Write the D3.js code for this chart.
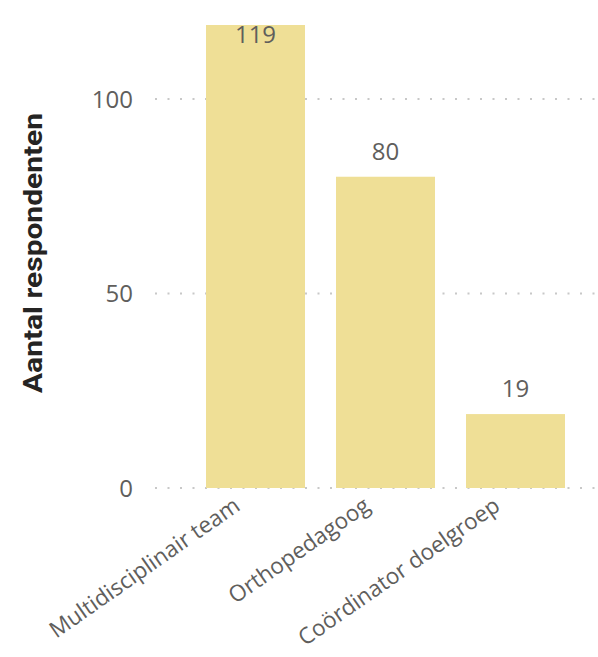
<!DOCTYPE html>
<html><head><meta charset="utf-8">
<script src="https://cdn.jsdelivr.net/npm/d3@7"></script>
<style>body{margin:0;background:#fff}svg{display:block}</style>
</head><body><svg id="c" width="598" height="657"></svg>
<script>
const categories = ["Multidisciplinair team", "Orthopedagoog", "Coördinator doelgroep"];
const values = [119, 80, 19];
const yTicks = [0, 50, 100];
const yTitle = "Aantal respondenten";

const svg = d3.select("#c");
const W = 598, H = 657;
const x = d3.scaleBand().domain(categories).range([141, 630]).paddingInner(0.2385).paddingOuter(0.5);
const y = d3.scaleLinear().domain([0, 119]).range([488, 25]);
const txt = "#605E5C";
const font = "'Open Sans', 'Noto Sans', sans-serif";

// gridlines
svg.append("g").selectAll("line").data(yTicks).join("line")
  .attr("x1", 155).attr("x2", W).attr("y1", d => y(d)).attr("y2", d => y(d))
  .attr("stroke", "#c8c8c8").attr("stroke-width", 2)
  .attr("stroke-dasharray", "2,10.5").attr("stroke-linecap", "butt");

// y axis labels
const yAxis = d3.axisLeft(y).tickValues(yTicks).tickSize(0).tickPadding(0);
const gy = svg.append("g").attr("transform", "translate(133,0)").call(yAxis);
gy.select(".domain").remove();
gy.selectAll("text").attr("fill", txt).style("font-family", font).style("font-size", "24px").attr("dy", "0.34em");

// bars
svg.append("g").selectAll("rect").data(values).join("rect")
  .attr("x", (d, i) => x(categories[i])).attr("width", x.bandwidth())
  .attr("y", d => y(d)).attr("height", d => y(0) - y(d))
  .attr("fill", "#EFDF96");

// data labels
svg.append("g").selectAll("text").data(values).join("text")
  .attr("x", (d, i) => x(categories[i]) + x.bandwidth() / 2)
  .attr("y", d => Math.max(y(d) - 17, 43))
  .attr("text-anchor", "middle").attr("fill", txt)
  .style("font-family", font).style("font-size", "24px")
  .text(d => d);

// x axis labels
const xAxis = d3.axisBottom(x).tickSize(0).tickPadding(0);
const gx = svg.append("g").attr("transform", "translate(0,488)").call(xAxis);
gx.select(".domain").remove();
gx.selectAll("text").attr("fill", txt).style("font-family", font).style("font-size", "22.5px")
  .attr("text-anchor", "end").attr("dy", null).attr("y", 0)
  .attr("transform", "translate(-14,21) rotate(-35)");

// y title
svg.append("text").attr("transform", "translate(42,253) rotate(-90)")
  .attr("text-anchor", "middle").attr("fill", "#252423")
  .attr("textLength", 280).attr("lengthAdjust", "spacingAndGlyphs")
  .style("font-family", "Roboto, 'DejaVu Sans', sans-serif").style("font-weight", "bold").style("font-size", "26px")
  .text(yTitle);
</script></body></html>
